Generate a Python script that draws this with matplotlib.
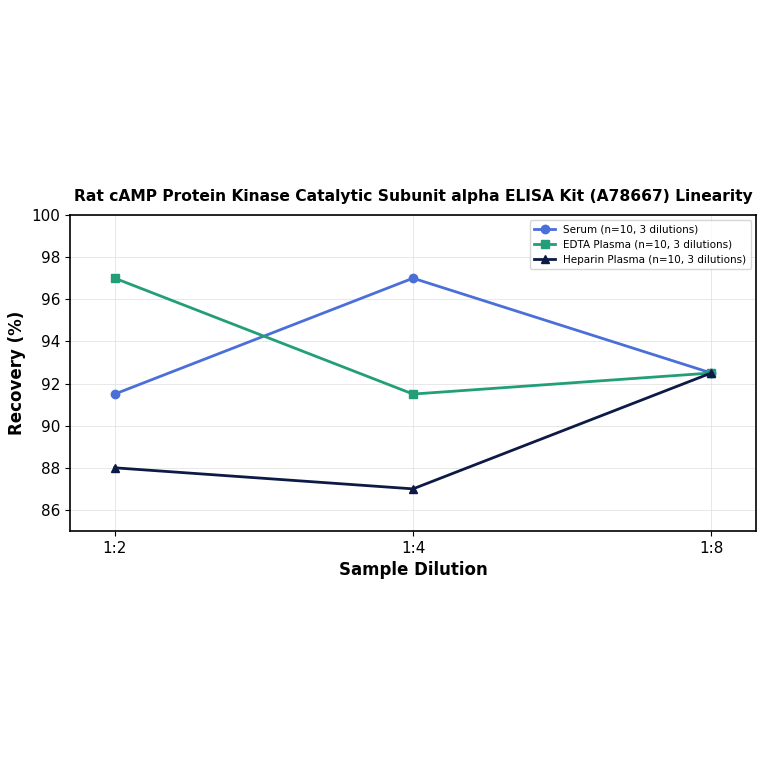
import matplotlib
matplotlib.use("Agg")
import matplotlib.pyplot as plt

dilutions = ["1:2", "1:4", "1:8"]
serum = [91.5, 97.0, 92.5]
edta = [97.0, 91.5, 92.5]
heparin = [88.0, 87.0, 92.5]
series_names = ["Serum (n=10, 3 dilutions)", "EDTA Plasma (n=10, 3 dilutions)", "Heparin Plasma (n=10, 3 dilutions)"]

fig = plt.figure(figsize=(7.64, 7.64), dpi=100)
ax = fig.add_axes([70/764, 1-531/764, (756-70)/764, (531-215)/764])
x = list(range(len(dilutions)))
ax.plot(x, serum, marker="o", color="#4a6fd8", lw=2, ms=6, label=series_names[0])
ax.plot(x, edta, marker="s", color="#229e78", lw=2, ms=6, label=series_names[1])
ax.plot(x, heparin, marker="^", color="#0d1a45", lw=2, ms=6, label=series_names[2])
ax.set_xticks(x)
ax.set_xticklabels(dilutions)
ax.set_xlim(-0.15, 2.15)
ax.set_ylim(85, 100)
ax.set_yticks([86, 88, 90, 92, 94, 96, 98, 100])
ax.tick_params(labelsize=11)
ax.grid(True, color="#dddddd", lw=0.6, alpha=0.8)
ax.set_xlabel("Sample Dilution", fontsize=12, fontweight="bold")
ax.set_ylabel("Recovery (%)", fontsize=12, fontweight="bold")
ax.set_title("Rat cAMP Protein Kinase Catalytic Subunit alpha ELISA Kit (A78667) Linearity", fontsize=11.2, fontweight="bold", pad=10)
ax.legend(loc="upper right", fontsize=7.5)
for s in ax.spines.values():
    s.set_linewidth(1.2)
fig.savefig("out.png", dpi=100)
